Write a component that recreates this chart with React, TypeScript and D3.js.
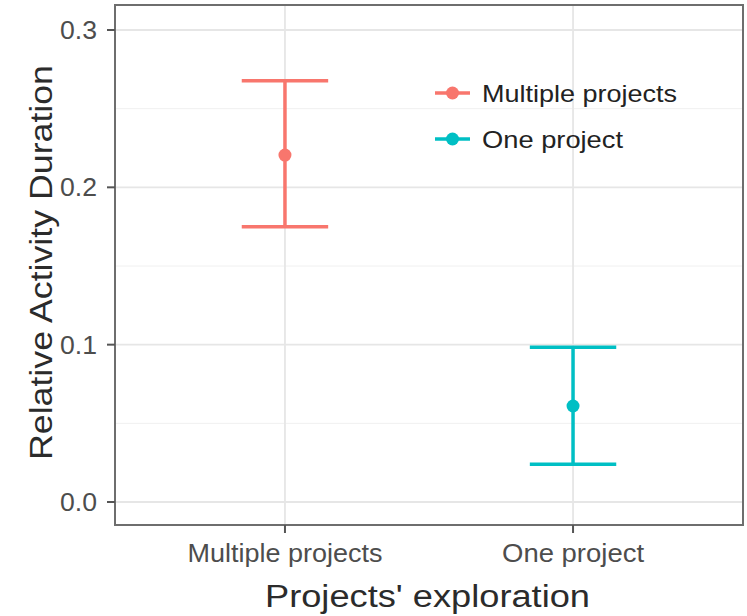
import * as d3 from "d3";

const categories = ["Multiple projects", "One project"];
const means = [0.2205, 0.061];
const upper = [0.2678, 0.0983];
const lower = [0.175, 0.024];
const colors = ["#F8766D", "#00BFC4"];
const yTicks = [0, 0.1, 0.2, 0.3];
const yMinor = [0.05, 0.15, 0.25];

const W = 747;
const H = 616;
const panel = { left: 115, right: 743, top: 5, bottom: 525 };
const FONT = "'Liberation Sans', Arial, sans-serif";

export default function App() {
  const x = d3
    .scalePoint<string>()
    .domain(categories)
    .range([panel.left, panel.right])
    .padding(0.59);
  const y = d3.scaleLinear().domain([0, 0.3]).range([502, 30]);
  const halfW = x.step() * 0.15;

  return (
    <svg
      width={W}
      height={H}
      style={{ position: "absolute", left: 0, top: 0, background: "#fff" }}
      fontFamily={FONT}
    >
      <rect x={0} y={0} width={W} height={H} fill="#fff" />
      {/* grid */}
      {yMinor.map((t) => (
        <line key={"m" + t} x1={panel.left} x2={panel.right} y1={y(t)} y2={y(t)} stroke="#f0f0f0" strokeWidth={1} />
      ))}
      {yTicks.map((t) => (
        <line key={"g" + t} x1={panel.left} x2={panel.right} y1={y(t)} y2={y(t)} stroke="#e6e6e6" strokeWidth={1.8} />
      ))}
      {categories.map((c) => (
        <line key={"v" + c} x1={x(c)} x2={x(c)} y1={panel.top} y2={panel.bottom} stroke="#e6e6e6" strokeWidth={1.8} />
      ))}

      {/* error bars */}
      {categories.map((c, i) => {
        const cx = x(c)!;
        return (
          <g key={c} stroke={colors[i]} strokeWidth={3.5} fill="none">
            <line x1={cx} x2={cx} y1={y(upper[i])} y2={y(lower[i])} />
            <line x1={cx - halfW} x2={cx + halfW} y1={y(upper[i])} y2={y(upper[i])} />
            <line x1={cx - halfW} x2={cx + halfW} y1={y(lower[i])} y2={y(lower[i])} />
            <circle cx={cx} cy={y(means[i])} r={6.5} fill={colors[i]} stroke="none" />
          </g>
        );
      })}

      {/* legend */}
      {categories.map((c, i) => {
        const ly = 93 + i * 46;
        return (
          <g key={"l" + c}>
            <line x1={435} x2={470} y1={ly} y2={ly} stroke={colors[i]} strokeWidth={3.5} />
            <circle cx={452.5} cy={ly} r={6.5} fill={colors[i]} />
            <text
              x={482}
              y={ly + 9}
              fontSize={24}
              fill="#222"
              textLength={i === 0 ? 195 : 141}
              lengthAdjust="spacingAndGlyphs"
            >
              {c}
            </text>
          </g>
        );
      })}

      {/* panel border */}
      <rect
        x={panel.left}
        y={panel.top}
        width={panel.right - panel.left}
        height={panel.bottom - panel.top}
        fill="none"
        stroke="#6e6e6e"
        strokeWidth={2}
      />

      {/* y axis */}
      {yTicks.map((t) => (
        <g key={"yt" + t}>
          <line x1={panel.left - 8} x2={panel.left} y1={y(t)} y2={y(t)} stroke="#555" strokeWidth={2} />
          <text
            x={97}
            y={y(t) + 9}
            textAnchor="end"
            fontSize={25}
            fill="#4d4d4d"
            textLength={37}
            lengthAdjust="spacingAndGlyphs"
          >
            {t.toFixed(1)}
          </text>
        </g>
      ))}

      {/* x axis */}
      {categories.map((c, i) => (
        <g key={"xt" + c}>
          <line x1={x(c)} x2={x(c)} y1={panel.bottom} y2={panel.bottom + 8} stroke="#555" strokeWidth={2} />
          <text
            x={x(c)}
            y={562}
            textAnchor="middle"
            fontSize={25}
            fill="#4d4d4d"
            textLength={i === 0 ? 195 : 142}
            lengthAdjust="spacingAndGlyphs"
          >
            {c}
          </text>
        </g>
      ))}

      {/* titles */}
      <text
        x={(panel.left + panel.right) / 2 - 1.5}
        y={607}
        textAnchor="middle"
        fontSize={31}
        fill="#2b2b2b"
        textLength={325}
        lengthAdjust="spacingAndGlyphs"
      >
        Projects' exploration
      </text>
      <text
        transform={`translate(52, ${(65 + 460) / 2}) rotate(-90)`}
        textAnchor="middle"
        fontSize={31}
        fill="#2b2b2b"
        textLength={395}
        lengthAdjust="spacingAndGlyphs"
      >
        Relative Activity Duration
      </text>
    </svg>
  );
}
